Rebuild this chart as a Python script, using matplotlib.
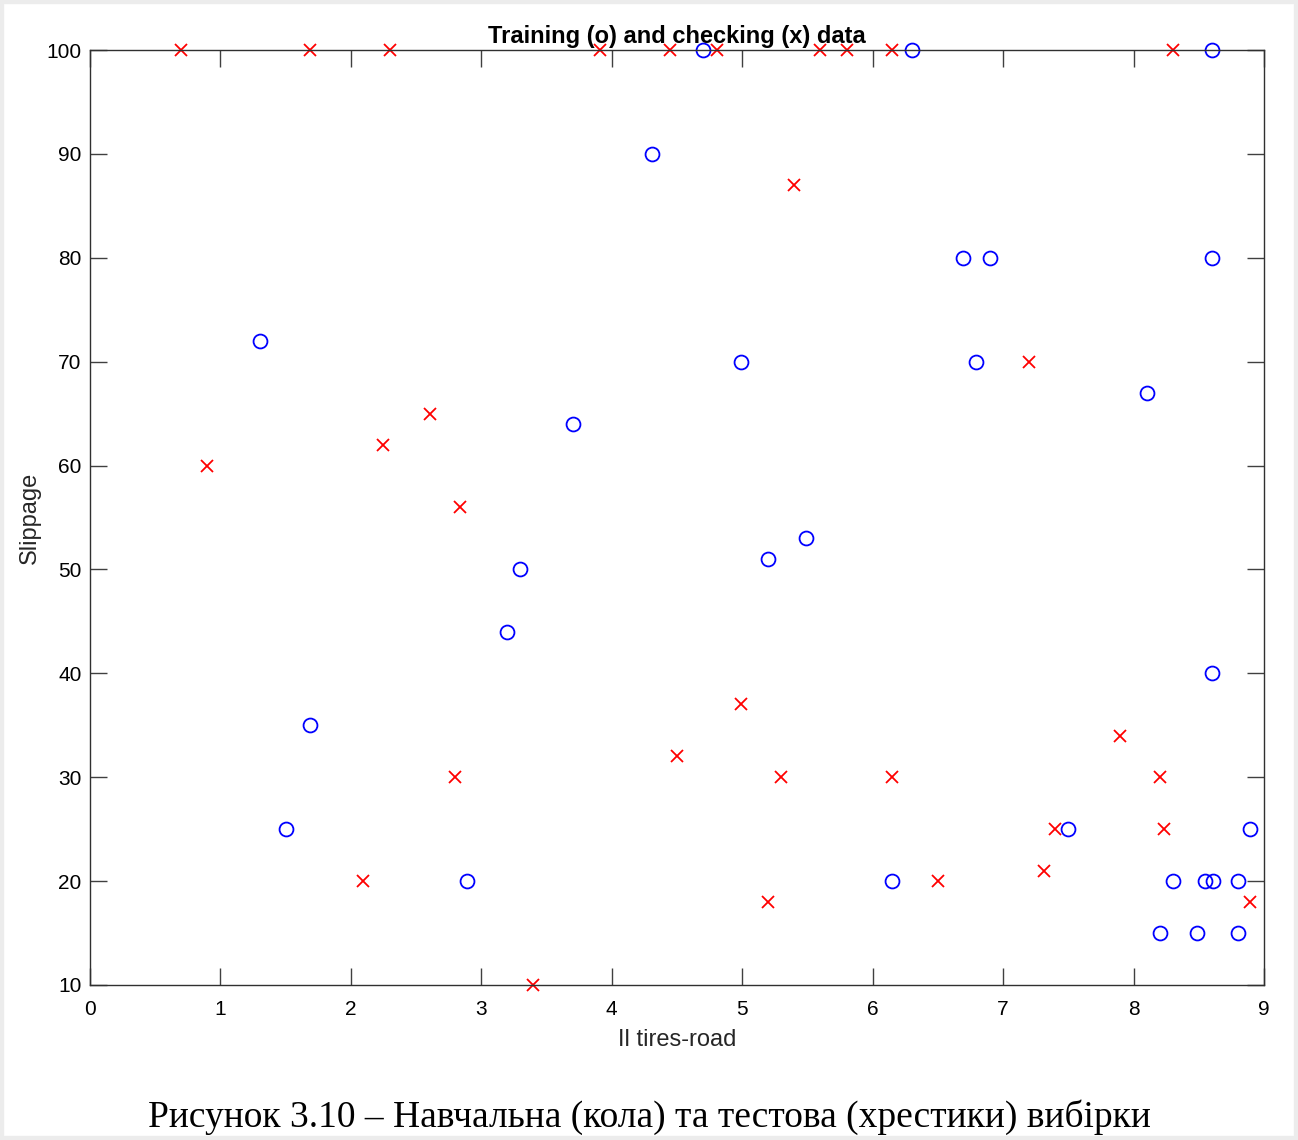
import matplotlib
matplotlib.use('Agg')
import matplotlib.pyplot as plt
from matplotlib.patches import Rectangle

# training data (circles)
train_x = [4.70, 6.30, 8.60, 4.31, 1.30, 3.70, 4.99, 6.69, 6.90, 6.79, 8.60, 8.10,
           3.30, 5.20, 5.49, 3.20, 1.69, 1.50, 2.89, 8.60, 7.50, 6.15, 8.30, 8.55,
           8.61, 8.80, 8.89, 8.20, 8.49, 8.80]
train_y = [100, 100, 100, 90, 72, 64, 70, 80, 80, 70, 80, 67,
           50, 51, 53, 44, 35, 25, 20, 40, 25, 20, 20, 20,
           20, 20, 25, 15, 15, 15]

# checking data (crosses)
check_x = [0.70, 1.69, 2.30, 3.91, 4.45, 4.81, 5.60, 5.80, 6.15, 8.30,
           0.90, 2.25, 2.61, 2.84, 2.80, 2.09, 3.40, 5.40, 7.20, 4.99,
           4.50, 5.30, 5.20, 6.15, 6.50, 7.31, 7.40, 7.90, 8.20, 8.23, 8.89]
check_y = [100, 100, 100, 100, 100, 100, 100, 100, 100, 100,
           60, 62, 65, 56, 30, 20, 10, 87, 70, 37,
           32, 30, 18, 30, 20, 21, 25, 34, 30, 25, 18]

x_ticks = list(range(0, 10))
y_ticks = list(range(10, 101, 10))

plt.rcParams['font.family'] = ['Liberation Sans', 'DejaVu Sans']

fig = plt.figure(figsize=(12.98, 11.40), dpi=100, facecolor='white')
# faint page frame around the screenshot
fig.patches.append(Rectangle((0, 0), 1, 1, transform=fig.transFigure, fill=False,
                             edgecolor='#ececec', linewidth=6, zorder=0))
ax = fig.add_axes([0.0693, 0.136, 0.9045, 0.8201])

ax.plot(train_x, train_y, 'o', mfc='none', mec='#0000ff', ms=10, mew=1.3, clip_on=False)
ax.plot(check_x, check_y, 'x', color='#ff0000', ms=9, mew=1.3, clip_on=False)

ax.set_xlim(0, 9)
ax.set_ylim(10, 100)
ax.set_xticks(x_ticks)
ax.set_yticks(y_ticks)
ax.tick_params(direction='in', length=12, width=1, color='#404040',
               top=True, right=True, labelsize=15)
ax.tick_params(axis='x', pad=11)
ax.tick_params(axis='y', pad=6)
for s in ax.spines.values():
    s.set_color('#303030')
    s.set_linewidth(1)

ax.set_title('Training (o) and checking (x) data', fontsize=17, fontweight='bold', pad=5)
ax.set_xlabel('Il tires-road', fontsize=17, color='#262626', labelpad=7)
ax.set_ylabel('Slippage', fontsize=17, color='#262626', labelpad=4)

fig.text(0.5, 0.004, 'Рисунок 3.10 – Навчальна (кола) та тестова (хрестики) вибірки',
         ha='center', va='bottom', fontsize=27, family=['Liberation Serif', 'DejaVu Serif'])

fig.savefig('out.png', dpi=100, facecolor='white')
